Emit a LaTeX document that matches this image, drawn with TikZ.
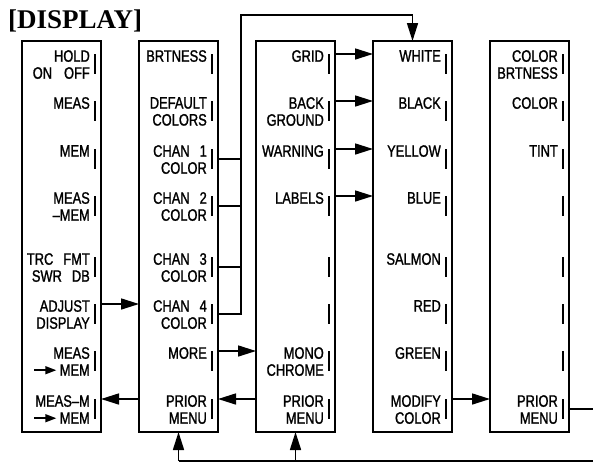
\documentclass[tikz,border=0pt]{standalone}
\usepackage{fontspec}
\usepackage{tikz}
\usetikzlibrary{positioning,arrows.meta,calc}
\newfontfamily\keyfont[FakeStretch=0.78,FakeBold=1.3]{Liberation Sans}
\newfontfamily\titlefont{Liberation Serif}

% small arrow used inside the key labels
\newcommand{\toarr}{\tikz[baseline=-5.5pt]\draw[line width=1.5pt,-{Triangle[length=11pt,width=8pt]}] (0pt,0pt) -- (22pt,0pt);}
\newcommand{\kgap}{\hspace{10pt}}
% softkey label, bar and the two connection points of one row
\newcommand{\softkey}[3]{%
  \pgfmathsetmacro{\keyy}{{9,56,104,151,212,259,306,354}[#2-1]}%
  \node[keytext, anchor=north east] (#1k#2) at ($(#1.north east)+(-11,\keyy)$) {#3};
  \draw[keybar] ($(#1.north east)+(-6,\keyy+4)$) -- ++(0,20);
  \coordinate (#1a#2) at ($(#1.north east)+(0,\keyy+4)$);
  \coordinate (#1b#2) at ($(#1.north east)+(0,\keyy+14)$);
}

\begin{document}
\begin{tikzpicture}[x=1pt, y=-1pt,
      menubox/.style={draw, line width=2.2pt, minimum width=79pt, minimum height=391pt,
                      inner sep=0pt, outer sep=0pt},
      keytext/.style={font=\keyfont\fontsize{16.5}{17}\selectfont, align=right, inner sep=0pt},
      keybar/.style={line width=1.9pt},
      wire/.style={line width=1.6pt},
      arr/.style={wire, -{Triangle[length=18pt,width=11pt]}},
      node distance=38pt]
    \useasboundingbox (0,0) rectangle (593,463);
    \node[font=\titlefont\bfseries\fontsize{27}{30}\selectfont, anchor=base west, inner sep=0pt]
      (title) at (8,28) {[DISPLAY]};

    \node[menubox] (m1) at (61.5,236.5) {};
    \node[menubox, right=of m1] (m2) {};
    \node[menubox, right=of m2] (m3) {};
    \node[menubox, right=of m3] (m4) {};
    \node[menubox, right=of m4] (m5) {};

    \foreach \t [count=\i] in {{HOLD\\ON\hspace{12pt}OFF}, MEAS, MEM, {MEAS\\–MEM},
        {TRC\kgap FMT\\SWR\kgap DB}, {ADJUST\\DISPLAY}, {MEAS\\\toarr\,MEM}, {MEAS–M\\\toarr\,MEM}}
      {\softkey{m1}{\i}{\t}}
    \foreach \t [count=\i] in {BRTNESS, {DEFAULT\\COLORS}, {CHAN\kgap 1\\COLOR}, {CHAN\kgap 2\\COLOR},
        {CHAN\kgap 3\\COLOR}, {CHAN\kgap 4\\COLOR}, MORE, {PRIOR\\MENU}}
      {\softkey{m2}{\i}{\t}}
    \foreach \t [count=\i] in {GRID, {BACK\\GROUND}, WARNING, LABELS, {}, {}, {MONO\\CHROME}, {PRIOR\\MENU}}
      {\softkey{m3}{\i}{\t}}
    \foreach \t [count=\i] in {WHITE, BLACK, YELLOW, BLUE, SALMON, RED, GREEN, {MODIFY\\COLOR}}
      {\softkey{m4}{\i}{\t}}
    \foreach \t [count=\i] in {{COLOR\\BRTNESS}, COLOR, TINT, {}, {}, {}, {}, {PRIOR\\MENU}}
      {\softkey{m5}{\i}{\t}}

    % menu links
    \draw[arr] (m1a6) -- (m2.west |- m1a6);
    \draw[arr] (m2.west |- m2a8) -- (m1a8);
    \draw[arr] (m2a7) -- (m3.west |- m2a7);
    \draw[arr] (m3.west |- m3a8) -- (m2a8);
    \foreach \i in {1,...,4}
      \draw[arr] (m3a\i) -- (m4.west |- m3a\i);
    \draw[arr] (m4a8) -- (m5.west |- m4a8);

    % channel colour keys go to the colour list
    \coordinate (bus) at (241,15);
    \foreach \i in {3,4,5}
      \draw[wire] (m2b\i) -- (m2b\i -| bus);
    \draw[arr] (m2b6) -| (bus) -- (bus -| m4.north) -- (m4.north);

    % prior menu of the last menu returns along the bottom
    \coordinate (exitR) at (593,0 |- m5b8);
    \coordinate (exitB) at (593,461);
    \draw[wire] (m5b8) -- (exitR);
    \draw[wire] (exitB) -- (exitB -| m2.south);
    \draw[arr] (exitB -| m2.south) -- (m2.south);
    \draw[arr] (exitB -| m3.south) -- (m3.south);
  \end{tikzpicture}
\end{document}
